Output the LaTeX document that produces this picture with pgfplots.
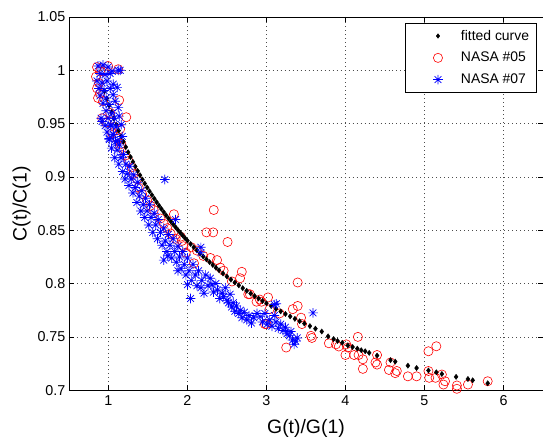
\documentclass[border=0pt]{standalone}
\usepackage{fontspec}
\setmainfont{Liberation Sans}
\usepackage{pgfplots}
\pgfplotsset{compat=1.18}
\usetikzlibrary{calc}
\definecolor{mred}{rgb}{1,0,0}
\definecolor{mblue}{rgb}{0,0,1}
\pgfdeclareplotmark{mstar}{%
  \pgfpathmoveto{\pgfpoint{-\pgfplotmarksize}{0pt}}\pgfpathlineto{\pgfpoint{\pgfplotmarksize}{0pt}}%
  \pgfpathmoveto{\pgfpoint{0pt}{-\pgfplotmarksize}}\pgfpathlineto{\pgfpoint{0pt}{\pgfplotmarksize}}%
  \pgfpathmoveto{\pgfpoint{-0.7071\pgfplotmarksize}{-0.7071\pgfplotmarksize}}\pgfpathlineto{\pgfpoint{0.7071\pgfplotmarksize}{0.7071\pgfplotmarksize}}%
  \pgfpathmoveto{\pgfpoint{-0.7071\pgfplotmarksize}{0.7071\pgfplotmarksize}}\pgfpathlineto{\pgfpoint{0.7071\pgfplotmarksize}{-0.7071\pgfplotmarksize}}%
  \pgfusepathqstroke}
\tikzset{
  fitstyle/.style={only marks, mark=diamond*, mark size=2.6bp, draw=black, fill=black},
  r5style/.style={only marks, mark=o, mark size=4.6bp, draw=mred, line width=0.6bp},
  b7style/.style={only marks, mark=mstar, mark size=4.8bp, draw=mblue, line width=0.7bp},
}
\begin{document}
\begin{tikzpicture}
\begin{axis}[
  width=474.7bp, height=373.7bp, scale only axis,
  xmin=0.5, xmax=6.5, ymin=0.7, ymax=1.05,
  xtick={1,2,3,4,5,6},
  ytick={0.7,0.75,0.8,0.85,0.9,0.95,1,1.05},
  yticklabels={0.7,0.75,0.8,0.85,0.9,0.95,1,1.05},
  /pgf/number format/assume math mode=true,
  tick align=inside, major tick length=5bp,
  tick style={black, line width=0.5bp},
  axis line style={black, line width=0.8bp},
  grid=major,
  major grid style={black!70, line width=0.6bp, dash pattern=on 1bp off 3bp},
  ticklabel style={font=\fontsize{14.4}{16}\selectfont},
  xticklabel style={yshift=-2bp},
  xlabel={G(t)/G(1)}, ylabel={C(t)/C(1)},
  label style={font=\fontsize{19.5}{22}\selectfont},
  xlabel style={yshift=-7bp},
  legend cell align=left,
  legend image code/.code={\path[draw=none,fill=none] (-7bp,-2bp) rectangle (42bp,2bp); \draw[mark repeat=2,mark phase=2,#1] plot coordinates {(0bp,0bp) (21bp,0bp) (42bp,0bp)};},
  legend style={at={(1,1)}, anchor=north east, xshift=-6.7bp, yshift=-6bp,
    draw=black, line width=0.5bp, fill=white,
    font=\fontsize{14}{16}\selectfont, row sep=6.5bp, inner xsep=5bp, inner ysep=5bp},
]
\addlegendimage{fitstyle, mark size=2.2bp}
\addlegendentry{fitted curve}
\addlegendimage{r5style}
\addlegendentry{NASA \#05}
\addlegendimage{b7style}
\addlegendentry{NASA \#07}

% NASA #05
\addplot[r5style, forget plot] table {
0.856 1.003
0.894 0.999
0.843 0.994
0.881 0.988
0.856 0.983
0.894 0.978
0.869 0.974
0.932 0.971
0.996 1.004
0.945 0.999
1.124 1.001
1.136 0.972
1.226 0.956
0.920 0.955
1.022 0.960
1.073 0.947
1.149 0.945
0.971 0.951
1.047 0.941
1.111 0.936
1.162 0.931
1.149 0.928
1.213 0.920
1.255 0.915
1.298 0.909
1.319 0.903
1.362 0.898
1.383 0.890
1.426 0.884
1.490 0.878
1.532 0.873
1.574 0.869
1.829 0.865
1.659 0.861
1.702 0.856
1.745 0.852
1.787 0.847
1.851 0.842
1.915 0.844
1.930 0.840
1.950 0.835
2.050 0.834
2.120 0.831
2.200 0.826
2.333 0.869
2.241 0.848
2.325 0.848
2.508 0.839
1.979 0.829
2.083 0.819
2.291 0.824
2.375 0.822
2.416 0.815
2.458 0.812
2.688 0.811
2.666 0.805
2.563 0.802
2.770 0.790
2.790 0.790
2.875 0.783
2.916 0.785
2.938 0.783
2.980 0.762
3.000 0.762
3.020 0.787
3.040 0.776
3.166 0.772
3.250 0.740
3.333 0.776
3.395 0.801
3.395 0.779
3.438 0.768
3.450 0.762
3.563 0.751
3.575 0.749
3.790 0.744
3.880 0.743
3.916 0.741
4.010 0.743
4.030 0.740
4.000 0.733
4.110 0.733
4.157 0.750
4.166 0.733
4.220 0.729
4.220 0.720
4.380 0.726
4.400 0.733
4.400 0.724
4.550 0.719
4.570 0.726
4.630 0.716
4.650 0.718
4.790 0.713
4.900 0.713
5.050 0.7365
5.150 0.7412
5.050 0.718
5.060 0.7116
5.140 0.7116
5.220 0.7147
5.240 0.7053
5.260 0.7084
5.410 0.7044
5.410 0.7013
5.550 0.7053
5.560 0.6990
5.800 0.7084
};

% fitted curve
\addplot[fitstyle, forget plot] table {
0.95 0.9804
0.98 0.9736
1.01 0.9670
1.04 0.9608
1.07 0.9548
1.10 0.9490
1.13 0.9434
1.16 0.9381
1.19 0.9330
1.22 0.9280
1.25 0.9232
1.28 0.9186
1.31 0.9141
1.34 0.9098
1.37 0.9056
1.40 0.9016
1.43 0.8976
1.46 0.8938
1.49 0.8901
1.52 0.8865
1.55 0.8831
1.58 0.8797
1.61 0.8764
1.64 0.8731
1.67 0.8700
1.70 0.8670
1.73 0.8640
1.76 0.8611
1.79 0.8583
1.82 0.8555
1.85 0.8528
1.88 0.8502
1.91 0.8476
1.94 0.8451
1.97 0.8426
2.00 0.8402
2.04 0.8371
2.08 0.8341
2.12 0.8311
2.16 0.8282
2.20 0.8254
2.24 0.8227
2.28 0.8201
2.32 0.8175
2.36 0.8149
2.40 0.8125
2.45 0.8095
2.50 0.8066
2.55 0.8037
2.60 0.8010
2.65 0.7983
2.70 0.7957
2.75 0.7932
2.80 0.7907
2.85 0.7883
2.90 0.7860
2.95 0.7837
3.00 0.7815
3.06 0.7789
3.12 0.7763
3.18 0.7739
3.24 0.7715
3.30 0.7692
3.36 0.7669
3.42 0.7647
3.48 0.7625
3.55 0.7601
3.62 0.7577
3.70 0.7550
3.78 0.7505
3.85 0.7480
3.90 0.7462
3.96 0.7445
4.03 0.7420
4.09 0.7405
4.15 0.7390
4.20 0.7375
4.25 0.7365
4.30 0.7350
4.40 0.7325
4.57 0.7282
4.63 0.7268
4.79 0.7230
4.90 0.7208
5.05 0.7185
5.15 0.7168
5.22 0.7152
5.40 0.7125
5.55 0.7105
5.61 0.7093
5.80 0.7065
};

% NASA #07
\addplot[b7style, forget plot] table {
0.869 1.004
0.932 1.005
0.996 1.003
1.047 0.999
0.894 0.997
0.958 0.996
1.022 0.997
1.124 1.000
1.149 1.000
0.856 0.990
0.920 0.988
0.983 0.990
1.060 0.987
0.881 0.983
0.945 0.981
1.022 0.983
1.111 0.984
0.894 0.976
0.971 0.974
1.060 0.977
0.932 0.969
1.009 0.968
1.085 0.971
1.124 0.965
0.971 0.962
1.047 0.960
0.907 0.955
0.996 0.955
1.073 0.955
1.136 0.957
0.920 0.952
0.958 0.948
1.034 0.949
1.098 0.947
1.162 0.949
0.983 0.942
1.060 0.940
1.009 0.936
1.111 0.934
1.175 0.938
1.01 0.935
1.03 0.948
1.04 0.927
1.06 0.940
1.08 0.918
1.09 0.933
1.11 0.925
1.13 0.912
1.14 0.930
1.16 0.918
1.18 0.905
1.19 0.921
1.21 0.898
1.22 0.912
1.24 0.903
1.26 0.892
1.27 0.910
1.29 0.898
1.31 0.885
1.32 0.902
1.34 0.890
1.36 0.876
1.37 0.895
1.39 0.882
1.41 0.868
1.42 0.887
1.44 0.874
1.46 0.862
1.47 0.880
1.49 0.868
1.51 0.855
1.52 0.874
1.54 0.862
1.56 0.848
1.58 0.866
1.60 0.855
1.62 0.842
1.63 0.860
1.66 0.848
1.68 0.836
1.70 0.852
1.70 0.822
1.72 0.840
1.74 0.830
1.75 0.826
1.76 0.846
1.78 0.836
1.80 0.824
1.82 0.842
1.84 0.830
1.85 0.860
1.86 0.820
1.88 0.835
1.88 0.812
1.90 0.825
1.92 0.814
1.94 0.830
1.96 0.818
1.98 0.808
2.00 0.824
2.00 0.799
2.02 0.812
2.05 0.803
2.07 0.818
2.10 0.808
2.12 0.798
2.14 0.812
2.17 0.829
2.17 0.834
2.17 0.796
2.18 0.803
2.21 0.791
2.23 0.808
2.26 0.798
2.29 0.805
2.31 0.799
2.33 0.792
2.36 0.800
2.38 0.794
2.41 0.786
2.44 0.791
2.46 0.788
2.48 0.796
2.50 0.784
2.52 0.782
2.54 0.790
2.56 0.778
2.58 0.782
2.60 0.774
2.62 0.779
2.65 0.772
2.67 0.775
2.69 0.768
2.72 0.773
2.75 0.766
2.78 0.770
2.81 0.763
2.84 0.768
2.88 0.772
2.92 0.769
2.95 0.764
2.98 0.772
3.01 0.762
3.04 0.766
3.07 0.760
3.10 0.770
3.12 0.764
3.15 0.758
3.18 0.762
3.21 0.756
3.24 0.759
3.26 0.753
3.29 0.751
3.31 0.755
3.33 0.747
3.35 0.743
3.37 0.746
3.39 0.749
1.714 0.8976
2.04 0.786
3.10 0.7803
3.125 0.781
3.59 0.7725
};
\end{axis}
\pgfresetboundingbox
\path[use as bounding box] ($(current axis.south west)+(-69bp,-49.3bp)$) rectangle ($(current axis.north east)+(0bp,17bp)$);
\end{tikzpicture}
\end{document}
